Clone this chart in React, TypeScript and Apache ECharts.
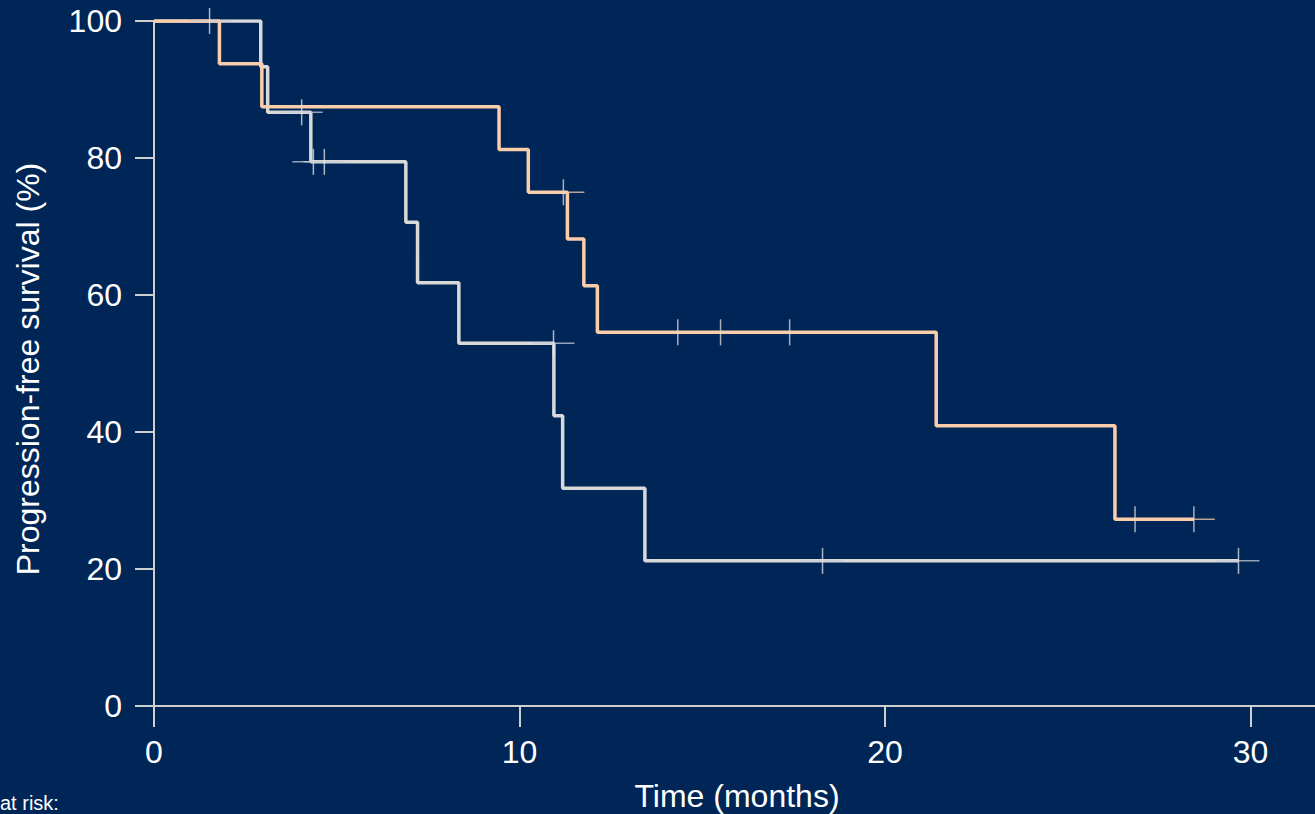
import React, { useEffect, useRef } from "react";
import * as echarts from "echarts";

// Kaplan–Meier step data (time in months, survival in %)
const orangeTimes = [0, 1.79, 2.95, 9.44, 10.24, 11.31, 11.76, 12.13, 21.4, 26.29, 28.45];
const orangeSurv = [100, 93.75, 87.5, 81.25, 75, 68.18, 61.36, 54.55, 40.91, 27.27, 27.27];
const orangeCensorTimes = [11.2, 14.33, 15.5, 17.39, 26.84, 28.45];
const orangeCensorSurv = [75, 54.55, 54.55, 54.55, 27.27, 27.27];

const grayTimes = [0, 2.92, 3.11, 4.29, 6.89, 7.21, 8.34, 10.94, 11.18, 13.43, 29.67];
const graySurv = [100, 93.33, 86.67, 79.44, 70.62, 61.79, 52.96, 42.37, 31.78, 21.19, 21.19];
const grayCensorTimes = [1.52, 4.04, 4.36, 4.66, 10.93, 18.29, 29.67];
const grayCensorSurv = [100, 86.67, 79.44, 79.44, 52.96, 21.19, 21.19];

const xTicks = [0, 10, 20, 30];
const yTicks = [0, 20, 40, 60, 80, 100];

const BG = "#002658";
const ORANGE = "#fbcdab";
const GRAY = "#d9d9d9";
const AXIS = "#cfcfcf";
const FONT = "'Liberation Sans', Arial, sans-serif";

const zip = (a: number[], b: number[]) => a.map((v, i) => [v, b[i]]);

export default function App() {
  const ref = useRef<HTMLDivElement>(null);
  useEffect(() => {
    if (!ref.current) return;
    const chart = echarts.init(ref.current, undefined, { renderer: "svg" });
    const censorSeries = (data: number[][], hColor: string, vColor: string, z: number) => ({
      type: "custom",
      z,
      data,
      encode: { x: 0, y: 1 },
      silent: true,
      renderItem: (_p: any, api: any) => {
        const pt = api.coord([api.value(0), api.value(1)]);
        return {
          type: "group",
          children: [
            {
              type: "line",
              shape: { x1: pt[0] - 21, y1: pt[1], x2: pt[0] + 21, y2: pt[1] },
              style: { stroke: hColor, lineWidth: 1.5, opacity: 0.75 },
            },
            {
              type: "line",
              shape: { x1: pt[0], y1: pt[1] - 13, x2: pt[0], y2: pt[1] + 13 },
              style: { stroke: vColor, lineWidth: 1.5, opacity: 0.75 },
            },
          ],
        };
      },
    });
    chart.setOption({
      animation: false,
      backgroundColor: BG,
      grid: { left: 154, right: 0, top: 21, bottom: 124, containLabel: false },
      xAxis: {
        type: "value",
        min: 0,
        max: 31.9,
        interval: 10,
        axisLine: { show: true, lineStyle: { color: AXIS, width: 2 } },
        axisTick: { show: true, length: 21, lineStyle: { color: AXIS, width: 2 } },
        axisLabel: {
          color: "#ffffff",
          fontSize: 32,
          fontFamily: FONT,
          margin: 30,
          showMaxLabel: false,
          formatter: (v: number) => (xTicks.includes(v) ? String(v) : ""),
        },
        splitLine: { show: false },
      },
      yAxis: {
        type: "value",
        min: 0,
        max: 100,
        interval: 20,
        axisLine: { show: true, lineStyle: { color: AXIS, width: 2 } },
        axisTick: { show: true, length: 19, lineStyle: { color: AXIS, width: 2 } },
        axisLabel: {
          color: "#ffffff",
          fontSize: 32,
          fontFamily: FONT,
          margin: 32,
          formatter: (v: number) => (yTicks.includes(v) ? String(v) : ""),
        },
        splitLine: { show: false },
      },
      graphic: [
        {
          type: "text",
          x: 28,
          y: 369,
          rotation: Math.PI / 2,
          style: {
            text: "Progression-free survival (%)",
            fill: "#ffffff",
            font: `32px ${FONT}`,
            textAlign: "center",
            textVerticalAlign: "middle",
          },
        },
        {
          type: "text",
          x: 737,
          y: 796,
          style: {
            text: "Time (months)",
            fill: "#ffffff",
            font: `32px ${FONT}`,
            textAlign: "center",
            textVerticalAlign: "middle",
          },
        },
        {
          type: "text",
          x: 0,
          y: 813,
          style: {
            text: "at risk:",
            fill: "#ffffff",
            font: `20px ${FONT}`,
            textAlign: "left",
            textVerticalAlign: "bottom",
          },
        },
      ],
      series: [
        {
          type: "line",
          step: "end",
          data: zip(grayTimes, graySurv),
          showSymbol: false,
          symbol: "none",
          lineStyle: { color: GRAY, width: 3.5 },
          z: 2,
          silent: true,
        },
        {
          type: "line",
          step: "end",
          data: zip(orangeTimes, orangeSurv),
          showSymbol: false,
          symbol: "none",
          lineStyle: { color: ORANGE, width: 3.5 },
          z: 3,
          silent: true,
        },
        censorSeries(zip(grayCensorTimes, grayCensorSurv), "#c8ccd4", "#e6e6e6", 4),
        censorSeries(zip(orangeCensorTimes, orangeCensorSurv), ORANGE, "#e6dcd6", 5),
      ],
    });
    return () => chart.dispose();
  }, []);
  return (
    <div
      style={{
        position: "fixed",
        left: 0,
        top: 0,
        width: 1315,
        height: 814,
        overflow: "hidden",
        background: BG,
      }}
    >
      <div ref={ref} style={{ width: 1320, height: 830 }} />
    </div>
  );
}
